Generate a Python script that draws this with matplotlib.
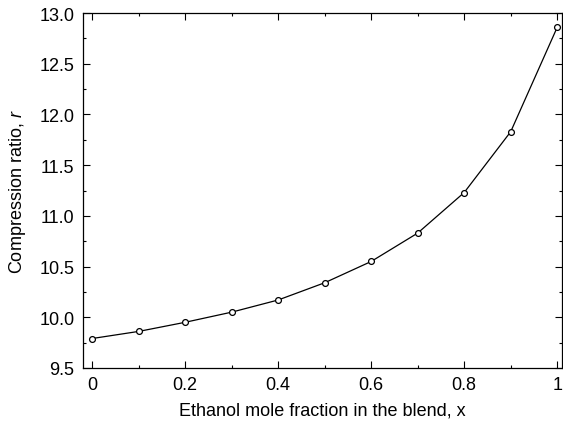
import numpy as np
import matplotlib.pyplot as plt
from matplotlib.ticker import MultipleLocator

x = [0.0, 0.1, 0.2, 0.3, 0.4, 0.5, 0.6, 0.7, 0.8, 0.9, 1.0]
r = [9.79, 9.86, 9.95, 10.05, 10.17, 10.34, 10.55, 10.83, 11.23, 11.83, 12.86]

plt.rcParams['font.family'] = ['Liberation Sans', 'DejaVu Sans']
plt.rcParams['mathtext.fontset'] = 'custom'
plt.rcParams['mathtext.rm'] = 'Liberation Sans'
plt.rcParams['mathtext.it'] = 'Liberation Sans:italic'

fig = plt.figure(figsize=(5.63, 4.27), dpi=100)
ax = fig.add_axes([0.147, 0.136, 0.851, 0.831])

ax.plot(x, r, color='black', linewidth=0.9, marker='o', markersize=4.2,
        markerfacecolor='white', markeredgecolor='black', markeredgewidth=0.9)

ax.set_xlim(-0.02, 1.01)
ax.set_ylim(9.5, 13.0)
ax.set_xticks([0, 0.2, 0.4, 0.6, 0.8, 1.0])
ax.set_xticklabels(['0', '0.2', '0.4', '0.6', '0.8', '1'])
ax.xaxis.set_minor_locator(MultipleLocator(0.1))
ax.yaxis.set_major_locator(MultipleLocator(0.5))
ax.yaxis.set_minor_locator(MultipleLocator(0.25))
ax.yaxis.set_major_formatter(plt.FormatStrFormatter('%.1f'))

ax.tick_params(which='both', direction='in', top=True, right=True, labelsize=13, width=0.8)
ax.tick_params(which='major', length=5, pad=6)
ax.tick_params(which='minor', length=2.5)
for s in ax.spines.values():
    s.set_linewidth(0.9)

ax.set_xlabel('Ethanol mole fraction in the blend, x', fontsize=13, labelpad=6)
ax.set_ylabel('Compression ratio, $\\mathit{r}$', fontsize=13, labelpad=8)

fig.savefig('out.png', dpi=100)
